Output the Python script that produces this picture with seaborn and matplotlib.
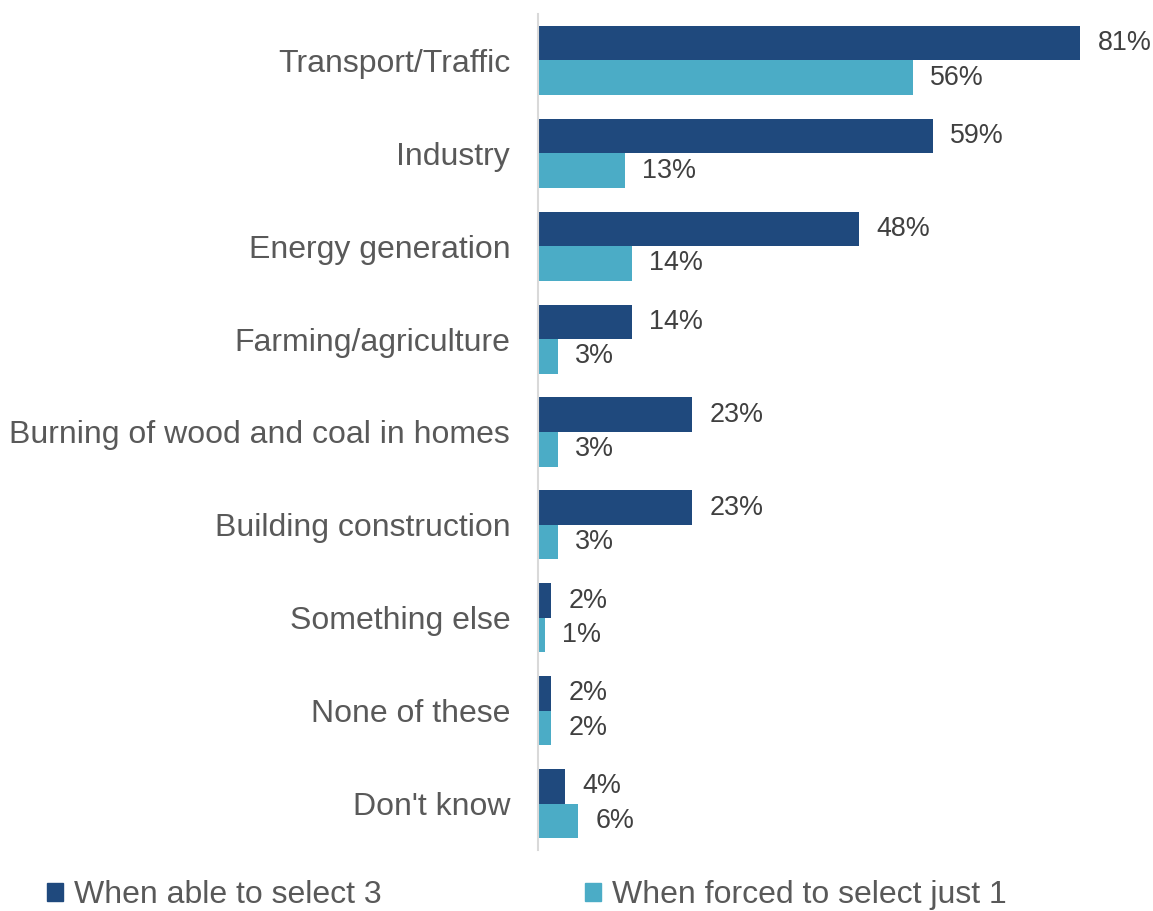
import matplotlib
matplotlib.use("Agg")
import matplotlib.pyplot as plt
import seaborn as sns
import pandas as pd

categories = [
    "Transport/Traffic",
    "Industry",
    "Energy generation",
    "Farming/agriculture",
    "Burning of wood and coal in homes",
    "Building construction",
    "Something else",
    "None of these",
    "Don't know",
]
select_three = [81, 59, 48, 14, 23, 23, 2, 2, 4]
select_one = [56, 13, 14, 3, 3, 3, 1, 2, 6]
series_names = ["When able to select 3", "When forced to select just 1"]
colors = ["#1F497D", "#4BACC6"]

df = pd.DataFrame({
    "category": categories * 2,
    "value": select_three + select_one,
    "series": [series_names[0]] * len(categories) + [series_names[1]] * len(categories),
})

sns.set_theme(style="white")
plt.rcParams["font.family"] = ["Liberation Sans", "DejaVu Sans"]

fig = plt.figure(figsize=(11.53, 9.11), dpi=100)
ax = fig.add_axes([538 / 1153, 61 / 911, 615 / 1153, 836 / 911])

sns.barplot(
    data=df, y="category", x="value", hue="series", order=categories,
    hue_order=series_names, palette=colors, orient="h", width=0.744,
    saturation=1, linewidth=0, ax=ax, legend=False,
)

for cont in ax.containers:
    ax.bar_label(cont, fmt="%g%%", padding=12.5, fontsize=19.4, color="#404040")

ax.set_xlim(0, 91.9)
ax.set_ylim(8.5, -0.5)
ax.set_xlabel("")
ax.set_ylabel("")
ax.set_xticks([])
ax.tick_params(axis="y", length=0, pad=20, labelsize=23, labelcolor="#595959")
for side in ["top", "right", "bottom"]:
    ax.spines[side].set_visible(False)
ax.spines["left"].set_color("#D9D9D9")
ax.spines["left"].set_linewidth(1.5)

handles = [plt.Rectangle((0, 0), 1, 1, color=c) for c in colors]
fig.legend(
    handles, series_names, loc="center left",
    bbox_to_anchor=(47 / 1153, 16 / 911), ncol=2, frameon=False,
    fontsize=23, labelcolor="#595959", handlelength=0.5, handleheight=0.5,
    handletextpad=0.35, columnspacing=6.35, borderpad=0, borderaxespad=0,
)

fig.savefig("out.png", dpi=100, facecolor="white")
